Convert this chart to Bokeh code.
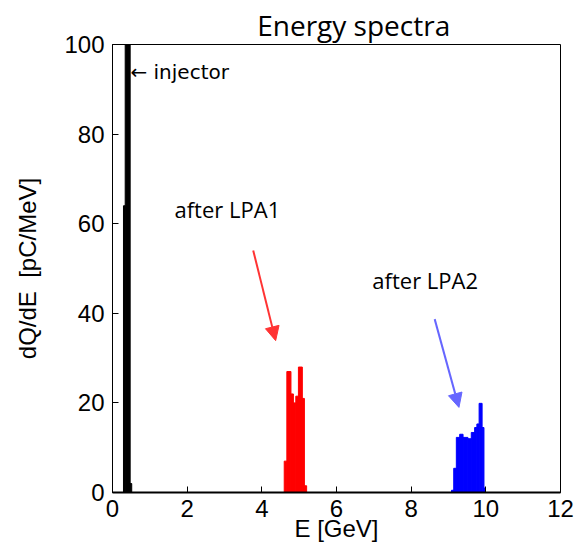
from bokeh.plotting import figure
from bokeh.models import Range1d, FixedTicker, Label, Arrow, NormalHead, Title
from bokeh.embed import file_html
from bokeh.resources import INLINE

# Injector spectrum (black)
inj_edges = [0.294, 0.34, 0.473, 0.515]
inj_vals = [64, 140, 2]
# After LPA1 (red)
lpa1_edges = [4.60, 4.67, 4.78, 4.845, 4.91, 4.98, 5.085, 5.14, 5.20]
lpa1_vals = [7, 27, 22, 20, 21.5, 28, 21, 1.5]
# After LPA2 (blue)
lpa2_edges = [9.08, 9.14, 9.21, 9.30, 9.39, 9.52, 9.61, 9.70, 9.76, 9.82, 9.90, 9.95, 9.99]
lpa2_vals = [0.5, 5.4, 12.3, 13, 12.3, 12, 13.4, 14.5, 15.3, 19.9, 14.5, 1]

x_ticks = [0, 2, 4, 6, 8, 10, 12]
y_ticks = [0, 20, 40, 60, 80, 100]

p = figure(width=574, height=545, output_backend="svg", toolbar_location=None,
           x_range=Range1d(0, 12), y_range=Range1d(0, 100),
           min_border_left=112, min_border_right=14, min_border_top=44, min_border_bottom=53)
p.grid.visible = False
p.background_fill_color = "white"
p.outline_line_color = "black"
p.outline_line_width = 1

def hist(edges, vals, color):
    p.quad(left=edges[:-1], right=edges[1:], bottom=0, top=vals,
           fill_color=color, line_color=color, line_width=1)

hist(inj_edges, inj_vals, "black")
hist(lpa1_edges, lpa1_vals, "#ff0000")
hist(lpa2_edges, lpa2_vals, "#0000ff")

for ax in (p.xaxis[0], p.yaxis[0]):
    ax.major_tick_in = 6
    ax.major_tick_out = 0
    ax.minor_tick_in = 0
    ax.minor_tick_out = 0
    ax.major_label_text_font = "Liberation Sans"
    ax.major_label_text_font_size = "24px"
    ax.major_label_text_color = "black"
    ax.axis_label_text_font = "Liberation Sans"
    ax.axis_label_text_font_size = "24px"
    ax.axis_label_text_font_style = "normal"
    ax.axis_label_text_color = "black"
    ax.axis_line_color = "black"
    ax.major_tick_line_color = "black"

p.xaxis.ticker = FixedTicker(ticks=x_ticks)
p.yaxis.ticker = FixedTicker(ticks=y_ticks)
p.xaxis.axis_label = "E [GeV]"
p.yaxis.axis_label = "dQ/dE\u00a0\u00a0[pC/MeV]"
p.xaxis.axis_line_width = 2
p.yaxis.axis_line_width = 1
p.xaxis.major_label_standoff = 7
p.xaxis.axis_label_standoff = -5
p.yaxis.major_label_standoff = 8
p.yaxis.axis_label_standoff = 20

p.add_layout(Title(text="Energy spectra", align="left", offset=144.7,
                   text_font="Open Sans", text_font_size="28px",
                   text_font_style="normal", text_color="black", standoff=2), "above")
p.add_layout(Label(x=0.48, y=93.8, text="\u2190 injector", text_font="DejaVu Sans",
                   text_font_size="20px", text_color="black", text_baseline="middle"))
p.add_layout(Label(x=1.66, y=63.2, text="after LPA1", text_font="Open Sans",
                   text_font_size="22px", text_color="black", text_baseline="middle"))
p.add_layout(Label(x=6.96, y=47.4, text="after LPA2", text_font="Open Sans",
                   text_font_size="22px", text_color="black", text_baseline="middle"))

p.add_layout(Arrow(x_start=3.77, y_start=54.0, x_end=4.37, y_end=33.9,
                   line_color="#ff3333", line_width=2,
                   end=NormalHead(size=14, fill_color="#ff3333", line_color="#ff3333")))
p.add_layout(Arrow(x_start=8.63, y_start=38.7, x_end=9.28, y_end=19.0,
                   line_color="#6666ff", line_width=2,
                   end=NormalHead(size=14, fill_color="#6666ff", line_color="#6666ff")))

open("out.html", "w").write(file_html(p, INLINE))
